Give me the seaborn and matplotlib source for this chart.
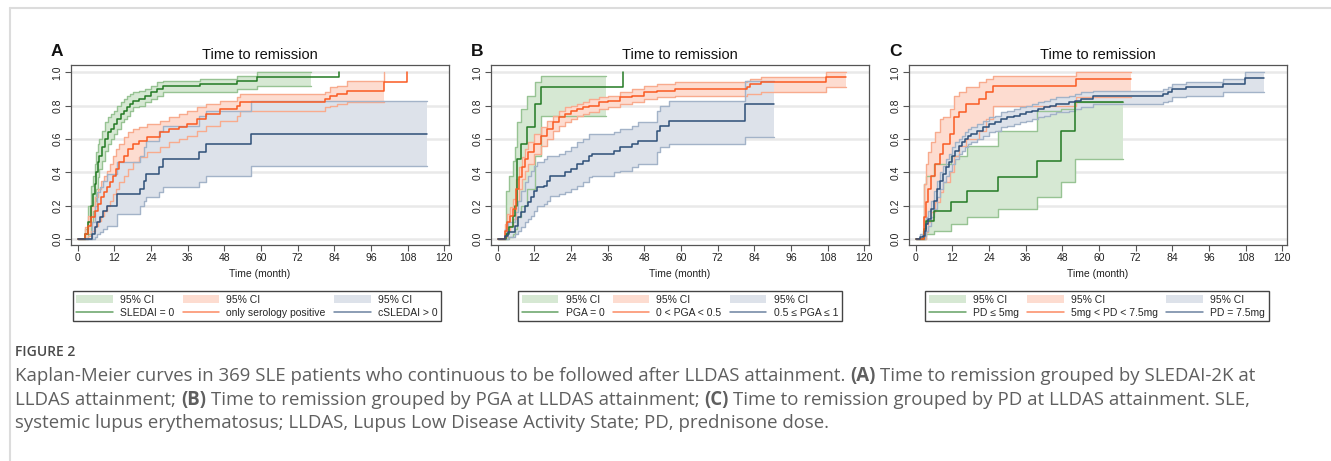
import numpy as np
import matplotlib
matplotlib.use("Agg")
from matplotlib import pyplot as plt
from matplotlib.lines import Line2D
from matplotlib.patches import Patch
import seaborn as sns

nan = np.nan

# ---- panel A : grouped by SLEDAI-2K ----
a_green_t = [0, 2.5, 3.5, 4.5, 5, 5.5, 6, 6.5, 7, 8, 9, 10, 11, 12, 13, 14, 15, 16, 17, 18, 20, 22, 24, 26, 28, 40, 52, 58.6, 76.3, 85.6]
a_green_s = [0, 0.03, 0.1, 0.2, 0.27, 0.33, 0.4, 0.46, 0.5, 0.55, 0.6, 0.64, 0.66, 0.69, 0.72, 0.75, 0.77, 0.79, 0.81, 0.83, 0.84, 0.86, 0.88, 0.9, 0.92, 0.93, 0.95, 0.97, 0.97, 1.0]
a_green_lo = [0, 0, 0.03, 0.1, 0.17, 0.23, 0.3, 0.37, 0.42, 0.47, 0.53, 0.57, 0.6, 0.63, 0.66, 0.7, 0.72, 0.74, 0.77, 0.79, 0.8, 0.82, 0.84, 0.86, 0.88, 0.88, 0.9, 0.92, 0.92, nan]
a_green_hi = [0, 0.06, 0.2, 0.32, 0.38, 0.45, 0.52, 0.57, 0.6, 0.65, 0.7, 0.73, 0.75, 0.77, 0.8, 0.82, 0.84, 0.86, 0.87, 0.88, 0.89, 0.9, 0.92, 0.94, 0.95, 0.96, 0.98, 1.0, 1.0, nan]

a_orange_t = [0, 2.5, 3.5, 4.5, 5.5, 6.5, 7.5, 8.5, 9.5, 10.5, 11.5, 12.5, 13.5, 15, 16.5, 18, 20, 22.6, 27, 30, 33, 35.7, 39, 42, 46.6, 52, 53, 81, 82.6, 84.8, 88, 100.2, 107.7]
a_orange_s = [0, 0.03, 0.08, 0.13, 0.17, 0.21, 0.25, 0.28, 0.31, 0.34, 0.38, 0.42, 0.46, 0.5, 0.54, 0.57, 0.59, 0.61, 0.64, 0.66, 0.67, 0.69, 0.72, 0.75, 0.78, 0.8, 0.82, 0.84, 0.86, 0.87, 0.89, 0.94, 1.0]
a_orange_lo = [0, 0, 0.02, 0.05, 0.08, 0.11, 0.14, 0.17, 0.2, 0.23, 0.27, 0.3, 0.34, 0.38, 0.42, 0.46, 0.49, 0.52, 0.55, 0.58, 0.6, 0.62, 0.65, 0.68, 0.71, 0.74, 0.77, 0.79, 0.8, 0.81, 0.82, 0.83, nan]
a_orange_hi = [0, 0.07, 0.14, 0.2, 0.25, 0.3, 0.35, 0.38, 0.41, 0.45, 0.5, 0.54, 0.57, 0.61, 0.64, 0.66, 0.67, 0.69, 0.71, 0.73, 0.75, 0.77, 0.79, 0.81, 0.83, 0.85, 0.87, 0.88, 0.91, 0.92, 0.95, 1.0, nan]

a_blue_t = [0, 4.6, 5.5, 6.3, 7.3, 8.2, 9.5, 13.0, 20.4, 21.7, 22.4, 26.6, 28.0, 39.7, 41.9, 56.6, 114.2]
a_blue_s = [0, 0.03, 0.07, 0.1, 0.13, 0.17, 0.2, 0.27, 0.3, 0.35, 0.39, 0.43, 0.48, 0.52, 0.57, 0.63, 0.63]
a_blue_lo = [0, 0, 0.01, 0.03, 0.04, 0.06, 0.08, 0.15, 0.2, 0.23, 0.25, 0.28, 0.31, 0.34, 0.38, 0.44, 0.44]
a_blue_hi = [0, 0.1, 0.2, 0.28, 0.31, 0.35, 0.39, 0.46, 0.5, 0.55, 0.59, 0.65, 0.68, 0.74, 0.77, 0.83, 0.83]

# ---- panel B : grouped by PGA ----
b_green_t = [0, 2.8, 3.8, 5.1, 5.8, 6.3, 7.5, 9.5, 12.2, 14.2, 35.3, 41.1]
b_green_s = [0, 0.03, 0.07, 0.14, 0.2, 0.48, 0.57, 0.67, 0.81, 0.91, 0.91, 1.0]
b_green_lo = [0, 0, 0.01, 0.03, 0.06, 0.13, 0.2, 0.3, 0.5, 0.74, 0.74, nan]
b_green_hi = [0, 0.29, 0.38, 0.47, 0.55, 0.7, 0.78, 0.86, 0.94, 0.98, 0.98, nan]

b_orange_t = [0, 2.5, 3, 4, 5, 6, 7, 8, 9, 10, 12, 14, 16, 18, 20, 22, 24, 26, 28, 30, 33, 36, 40, 44, 48, 52, 58, 81.5, 82.5, 86, 107.5, 114]
b_orange_s = [0, 0.05, 0.1, 0.14, 0.18, 0.3, 0.37, 0.43, 0.48, 0.52, 0.57, 0.62, 0.66, 0.7, 0.73, 0.75, 0.77, 0.78, 0.79, 0.8, 0.82, 0.83, 0.85, 0.86, 0.88, 0.89, 0.9, 0.91, 0.93, 0.94, 0.97, 0.97]
b_orange_lo = [0, 0.01, 0.05, 0.08, 0.12, 0.23, 0.3, 0.36, 0.41, 0.45, 0.51, 0.56, 0.6, 0.65, 0.68, 0.7, 0.72, 0.74, 0.75, 0.76, 0.78, 0.79, 0.81, 0.82, 0.84, 0.85, 0.86, 0.87, 0.87, 0.88, 0.91, 0.91]
b_orange_hi = [0, 0.09, 0.15, 0.19, 0.24, 0.36, 0.43, 0.49, 0.54, 0.58, 0.63, 0.67, 0.71, 0.74, 0.77, 0.79, 0.8, 0.81, 0.82, 0.84, 0.85, 0.86, 0.88, 0.9, 0.92, 0.93, 0.94, 0.95, 0.96, 0.97, 1.0, 1.0]

b_blue_t = [0, 2.5, 3.5, 5.5, 6.5, 7.5, 9, 10, 11, 12, 13, 15, 16, 17, 20, 22, 24, 26, 28, 30, 31, 38, 40, 44, 46, 52, 53, 56, 81, 90.4]
b_blue_s = [0, 0.02, 0.04, 0.08, 0.13, 0.16, 0.2, 0.22, 0.25, 0.29, 0.31, 0.32, 0.35, 0.38, 0.38, 0.4, 0.42, 0.45, 0.47, 0.5, 0.51, 0.53, 0.55, 0.57, 0.59, 0.65, 0.68, 0.71, 0.81, 0.81]
b_blue_lo = [0, 0, 0.01, 0.03, 0.05, 0.07, 0.1, 0.12, 0.14, 0.17, 0.2, 0.21, 0.23, 0.26, 0.27, 0.28, 0.3, 0.32, 0.34, 0.37, 0.38, 0.4, 0.41, 0.43, 0.45, 0.52, 0.55, 0.57, 0.61, 0.61]
b_blue_hi = [0, 0.06, 0.1, 0.16, 0.23, 0.29, 0.34, 0.38, 0.41, 0.44, 0.46, 0.48, 0.5, 0.5, 0.51, 0.53, 0.55, 0.58, 0.6, 0.63, 0.63, 0.64, 0.66, 0.68, 0.7, 0.77, 0.8, 0.83, 0.95, 0.95]

# ---- panel C : grouped by prednisone dose ----
c_green_t = [0, 2.6, 3.2, 6.0, 11.4, 16.8, 27.0, 39.6, 47.7, 52.0, 67.8]
c_green_s = [0, 0.06, 0.11, 0.17, 0.22, 0.29, 0.37, 0.47, 0.65, 0.82, 0.82]
c_green_lo = [0, 0.0, 0.03, 0.05, 0.09, 0.13, 0.18, 0.25, 0.34, 0.48, 0.48]
c_green_hi = [0, 0.33, 0.38, 0.45, 0.5, 0.56, 0.65, 0.77, 0.78, 0.82, 0.82]

c_orange_t = [0, 2.7, 3.3, 4.0, 5.1, 6.2, 7.8, 8.9, 11.3, 12.4, 14.0, 16.5, 20.8, 23.0, 25.2, 52.3, 70.4]
c_orange_s = [0, 0.13, 0.22, 0.3, 0.38, 0.45, 0.51, 0.57, 0.63, 0.73, 0.76, 0.81, 0.84, 0.88, 0.92, 0.96, 0.96]
c_orange_lo = [0, 0.0, 0.04, 0.1, 0.16, 0.22, 0.28, 0.34, 0.4, 0.5, 0.56, 0.6, 0.65, 0.72, 0.8, 0.85, 0.85]
c_orange_hi = [0, 0.33, 0.45, 0.52, 0.58, 0.64, 0.72, 0.73, 0.78, 0.86, 0.88, 0.91, 0.94, 0.96, 0.98, 1.0, 1.0]

c_blue_t = [0, 1.5, 2.5, 3, 3.5, 4, 5, 6, 7, 8, 9, 10, 11, 12, 13, 14, 15, 16, 17, 18, 20, 22, 24, 26, 28, 30, 32, 34, 36, 38, 40, 42, 44, 46, 50, 52, 54, 58, 81, 82.5, 84, 88.5, 100.5, 107.7, 114]
c_blue_s = [0, 0.01, 0.02, 0.05, 0.09, 0.12, 0.18, 0.23, 0.3, 0.35, 0.39, 0.43, 0.46, 0.5, 0.53, 0.56, 0.58, 0.6, 0.62, 0.63, 0.65, 0.67, 0.69, 0.7, 0.72, 0.73, 0.74, 0.75, 0.76, 0.77, 0.78, 0.79, 0.8, 0.81, 0.82, 0.83, 0.84, 0.86, 0.87, 0.88, 0.9, 0.91, 0.93, 0.965, 0.965]
c_blue_lo = [0, 0, 0.0, 0.02, 0.05, 0.08, 0.13, 0.18, 0.25, 0.3, 0.34, 0.38, 0.41, 0.45, 0.48, 0.51, 0.53, 0.55, 0.57, 0.58, 0.6, 0.62, 0.64, 0.65, 0.67, 0.68, 0.69, 0.7, 0.71, 0.72, 0.73, 0.74, 0.75, 0.76, 0.77, 0.78, 0.79, 0.81, 0.82, 0.83, 0.85, 0.86, 0.88, 0.88, 0.88]
c_blue_hi = [0, 0.03, 0.05, 0.09, 0.13, 0.17, 0.23, 0.29, 0.35, 0.4, 0.44, 0.48, 0.51, 0.55, 0.58, 0.6, 0.62, 0.64, 0.66, 0.67, 0.69, 0.71, 0.73, 0.74, 0.76, 0.77, 0.78, 0.79, 0.8, 0.81, 0.82, 0.83, 0.84, 0.85, 0.86, 0.87, 0.88, 0.89, 0.9, 0.91, 0.93, 0.94, 0.96, 1.0, 1.0]

panel_letters = ['A', 'B', 'C']
group_labels = [['SLEDAI = 0', 'only serology positive', 'cSLEDAI > 0'],
                ['PGA = 0', '0 < PGA < 0.5', '0.5 ≤ PGA ≤ 1'],
                ['PD ≤ 5mg', '5mg < PD < 7.5mg', 'PD = 7.5mg']]
x_ticks = [0, 12, 24, 36, 48, 60, 72, 84, 96, 108, 120]
y_ticks = [0.0, 0.2, 0.4, 0.6, 0.8, 1.0]

# colours: line, fill, band edge
green = ('#237a23', '#d6e8d3', '#97c393')
orange = ('#fa5a22', '#fddcd0', '#f8ab8e')
blue = ('#2e4f78', '#dde2ea', '#a3b3c8')

panels = [
    [(a_green_t, a_green_s, a_green_lo, a_green_hi, green),
     (a_orange_t, a_orange_s, a_orange_lo, a_orange_hi, orange),
     (a_blue_t, a_blue_s, a_blue_lo, a_blue_hi, blue)],
    [(b_green_t, b_green_s, b_green_lo, b_green_hi, green),
     (b_orange_t, b_orange_s, b_orange_lo, b_orange_hi, orange),
     (b_blue_t, b_blue_s, b_blue_lo, b_blue_hi, blue)],
    [(c_green_t, c_green_s, c_green_lo, c_green_hi, green),
     (c_orange_t, c_orange_s, c_orange_lo, c_orange_hi, orange),
     (c_blue_t, c_blue_s, c_blue_lo, c_blue_hi, blue)],
]

sns.set_theme(style="white")
plt.rcParams['font.family'] = ['Liberation Sans', 'DejaVu Sans']

W, H = 1331, 461
fig = plt.figure(figsize=(W / 100, H / 100), dpi=100)
fig.patch.set_facecolor('white')

# page frame
fig.add_artist(Line2D([10 / W, 10 / W], [0, 1 - 8 / H], transform=fig.transFigure, color='#dcdcdc', lw=1.5))
fig.add_artist(Line2D([10 / W, 1], [1 - 8 / H, 1 - 8 / H], transform=fig.transFigure, color='#dcdcdc', lw=1.5))

lefts = [71, 491, 909]
legend_cx = [257, 680, 1097]

for i, left in enumerate(lefts):
    ax = fig.add_axes([left / W, 1 - 245 / H, 378 / W, 180 / H])
    for t, s, lo, hi, col in panels[i]:
        t = np.array(t, dtype=float)
        lo = np.array(lo, dtype=float)
        hi = np.array(hi, dtype=float)
        ax.fill_between(t, lo, hi, step='post', color=col[1], lw=0, zorder=2)
        sns.lineplot(x=t, y=lo, drawstyle='steps-post', color=col[2], lw=1, ax=ax, zorder=3)
        sns.lineplot(x=t, y=hi, drawstyle='steps-post', color=col[2], lw=1, ax=ax, zorder=3)
    for t, s, lo, hi, col in panels[i]:
        sns.lineplot(x=t, y=s, drawstyle='steps-post', color=col[0], lw=1.1, ax=ax, zorder=4)

    ax.set_xlim(-2.2, 121.5)
    ax.set_ylim(-0.036, 1.044)
    ax.set_xticks(x_ticks)
    ax.set_yticks(y_ticks)
    ax.set_yticklabels([f'{v:.1f}' for v in y_ticks], rotation=90, va='center')
    ax.yaxis.grid(True, color='#e9e9e9', lw=1.8, zorder=0)
    ax.xaxis.grid(False)
    ax.set_axisbelow(True)
    for sp in ax.spines.values():
        sp.set_color('#555555')
        sp.set_linewidth(0.9)
    ax.tick_params(axis='both', direction='out', length=4, width=0.8, color='#555555',
                   labelsize=7.5, labelcolor='#222222', pad=2)
    ax.tick_params(axis='x', bottom=True)
    ax.tick_params(axis='y', left=True)
    ax.set_xlabel('Time (month)', fontsize=7.5, labelpad=4, color='#222222')
    ax.set_ylabel('')
    ax.set_title('Time to remission', fontsize=10.5, pad=4, color='#111111')
    fig.text((left - 20) / W, 1 - 52 / H, panel_letters[i], fontsize=12.5, fontweight='bold',
             ha='left', va='center', color='#111111')

    handles = []
    for (t, s, lo, hi, col), lab in zip(panels[i], group_labels[i]):
        handles.append(Patch(facecolor=col[1], edgecolor='none', label='95% CI'))
        handles.append(Line2D([], [], color=col[0], lw=1.1, alpha=0.7, label=lab))
    fig.legend(handles=handles, ncol=3, loc='upper center',
               bbox_to_anchor=(legend_cx[i] / W, 1 - 291 / H),
               fontsize=7.5, frameon=True, fancybox=False, framealpha=1,
               edgecolor='#444444', handlelength=3.5, handleheight=0.9,
               columnspacing=0.8, labelspacing=0.3, borderpad=0.35,
               handletextpad=0.7, borderaxespad=0)

# caption
cap_color = '#5f5f5f'
cap_font = ['Open Sans', 'DejaVu Sans']
cap_size = 13.4
fig.text(15 / W, 1 - 352 / H, 'FIGURE 2', fontsize=10, fontweight='semibold',
         family=cap_font, color='#4a4a4a', va='center', ha='left')

caption_lines = [
    [('Kaplan-Meier curves in 369 SLE patients who continuous to be followed after LLDAS attainment.', False),
     ('(A)', True), ('Time to remission grouped by SLEDAI-2K at', False)],
    [('LLDAS attainment;', False), ('(B)', True),
     ('Time to remission grouped by PGA at LLDAS attainment;', False), ('(C)', True),
     ('Time to remission grouped by PD at LLDAS attainment. SLE,', False)],
    [('systemic lupus erythematosus; LLDAS, Lupus Low Disease Activity State; PD, prednisone dose.', False)],
]
caption_y = [376, 400, 423]

renderer = fig.canvas.get_renderer()
probe1 = fig.text(0, 0, 'x x', fontsize=cap_size, family=cap_font)
probe2 = fig.text(0, 0, 'xx', fontsize=cap_size, family=cap_font)
space_w = probe1.get_window_extent(renderer).width - probe2.get_window_extent(renderer).width
probe1.remove()
probe2.remove()

for runs, y in zip(caption_lines, caption_y):
    x = 15
    for txt, bold in runs:
        tt = fig.text(x / W, 1 - y / H, txt, fontsize=cap_size, family=cap_font,
                      fontweight='bold' if bold else 'normal', color=cap_color,
                      ha='left', va='center')
        x += tt.get_window_extent(renderer).width + space_w

fig.savefig('out.png', dpi=100)
